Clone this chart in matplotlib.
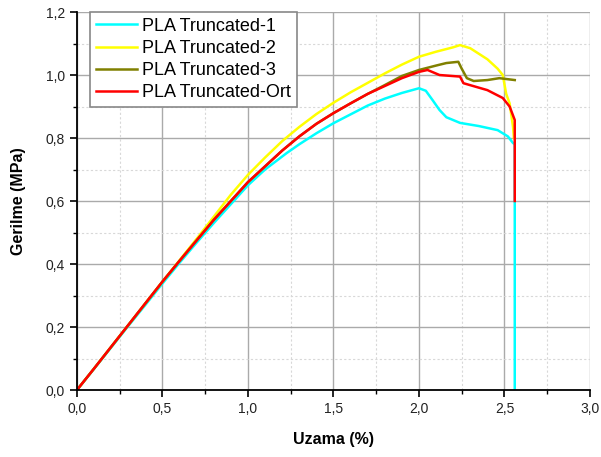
import numpy as np
import matplotlib
matplotlib.use("Agg")
import matplotlib.pyplot as plt
from matplotlib.ticker import MultipleLocator, FuncFormatter

plt.rcParams["font.family"] = ["Liberation Sans", "DejaVu Sans"]

# data (strain %, stress MPa)
x_t1 = [0, 0.1, 0.2, 0.3, 0.4, 0.5, 0.6, 0.7, 0.8, 0.9, 1.0, 1.1, 1.226, 1.3, 1.4, 1.5, 1.6, 1.7,
        1.8, 1.9, 1.96, 2.0, 2.04, 2.08, 2.12, 2.16, 2.24, 2.35, 2.46, 2.52, 2.55, 2.56, 2.56]
y_t1 = [0, 0.067, 0.135, 0.203, 0.27, 0.338, 0.404, 0.468, 0.53, 0.59, 0.65, 0.70, 0.752, 0.78, 0.815,
        0.847, 0.875, 0.903, 0.925, 0.943, 0.952, 0.958, 0.95, 0.92, 0.889, 0.866, 0.848, 0.838, 0.825,
        0.805, 0.784, 0.78, 0.0]

x_t2 = [0, 0.1, 0.2, 0.3, 0.4, 0.5, 0.6, 0.7, 0.8, 0.9, 1.0, 1.1, 1.2, 1.3, 1.4, 1.5, 1.6, 1.7,
        1.8, 1.9, 2.0, 2.1, 2.2, 2.24, 2.3, 2.4, 2.46, 2.49, 2.51, 2.53, 2.55, 2.555]
y_t2 = [0, 0.068, 0.137, 0.206, 0.275, 0.344, 0.412, 0.48, 0.55, 0.62, 0.683, 0.738, 0.79, 0.835, 0.876,
        0.912, 0.945, 0.975, 1.005, 1.033, 1.058, 1.074, 1.088, 1.095, 1.085, 1.05, 1.02, 1.0, 0.94, 0.91,
        0.835, 0.80]

x_t3 = [0, 0.1, 0.2, 0.3, 0.4, 0.5, 0.6, 0.7, 0.8, 0.9, 1.0, 1.1, 1.2, 1.3, 1.4, 1.5, 1.6, 1.7,
        1.8, 1.9, 2.0, 2.1, 2.16, 2.23, 2.25, 2.28, 2.32, 2.40, 2.47, 2.56]
y_t3 = [0, 0.068, 0.137, 0.206, 0.275, 0.344, 0.41, 0.475, 0.54, 0.6, 0.66, 0.71, 0.76, 0.805, 0.845,
        0.879, 0.91, 0.94, 0.968, 0.997, 1.016, 1.03, 1.038, 1.042, 1.02, 0.99, 0.981, 0.984, 0.99, 0.984]

x_ort = [0, 0.1, 0.2, 0.3, 0.4, 0.5, 0.6, 0.7, 0.8, 0.9, 1.0, 1.1, 1.2, 1.3, 1.4, 1.5, 1.6, 1.7,
         1.8, 1.9, 2.0, 2.05, 2.12, 2.24, 2.26, 2.4, 2.49, 2.53, 2.56, 2.56]
y_ort = [0, 0.068, 0.137, 0.206, 0.275, 0.344, 0.41, 0.475, 0.54, 0.6, 0.66, 0.71, 0.76, 0.805, 0.845,
         0.879, 0.91, 0.94, 0.965, 0.99, 1.01, 1.016, 1.0, 0.995, 0.974, 0.952, 0.927, 0.90, 0.857, 0.60]

labels = ["PLA Truncated-1", "PLA Truncated-2", "PLA Truncated-3", "PLA Truncated-Ort"]
colors = ["#00FFFF", "#FFFF00", "#808000", "#FF0000"]

fig = plt.figure(figsize=(6.01, 4.57), dpi=100)
ax = fig.add_axes([0.128, 0.1466, 0.8537, 0.8271])

series = [(x_t1, y_t1), (x_t2, y_t2), (x_t3, y_t3), (x_ort, y_ort)]
for (xs, ys), lab, c in zip(series, labels, colors):
    ax.plot(xs, ys, color=c, lw=1.8, label=lab)

ax.set_xlim(0, 3.0)
ax.set_ylim(0, 1.2)
ax.xaxis.set_major_locator(MultipleLocator(0.5))
ax.xaxis.set_minor_locator(MultipleLocator(0.25))
ax.yaxis.set_major_locator(MultipleLocator(0.2))
ax.yaxis.set_minor_locator(MultipleLocator(0.1))
comma = FuncFormatter(lambda v, p: f"{v:.1f}".replace(".", ","))
ax.xaxis.set_major_formatter(comma)
ax.yaxis.set_major_formatter(comma)

ax.grid(which="major", color="#aaaaaa", lw=1.0)
ax.grid(which="minor", color="#d8d8d8", lw=0.8, ls=(0, (2, 2)))
ax.set_axisbelow(True)
ax.xaxis.get_gridlines()[-1].set_visible(False)
ax.yaxis.get_gridlines()[-1].set_visible(False)

for s in ["top", "right"]:
    ax.spines[s].set_visible(False)
for s in ["left", "bottom"]:
    ax.spines[s].set_linewidth(1.3)
ax.tick_params(which="major", direction="out", length=5, width=1.2, labelsize=10, colors="black")
ax.tick_params(which="minor", direction="out", length=3, width=1.0)
for t in ax.get_xticklabels() + ax.get_yticklabels():
    t.set_color("#222222")

ax.set_xlabel("Uzama (%)", fontsize=11.5, fontweight="bold", labelpad=12)
ax.set_ylabel("Gerilme (MPa)", fontsize=11.5, fontweight="bold", labelpad=14)

leg = ax.legend(loc="upper left", bbox_to_anchor=(0.025, 1.0), borderaxespad=0, fontsize=13,
                frameon=True, fancybox=False, framealpha=1, edgecolor="#888888",
                handlelength=2.3, handletextpad=0.3, labelspacing=0.28, borderpad=0.32)
leg.get_frame().set_linewidth(1.2)

fig.savefig("out.png", dpi=100)
